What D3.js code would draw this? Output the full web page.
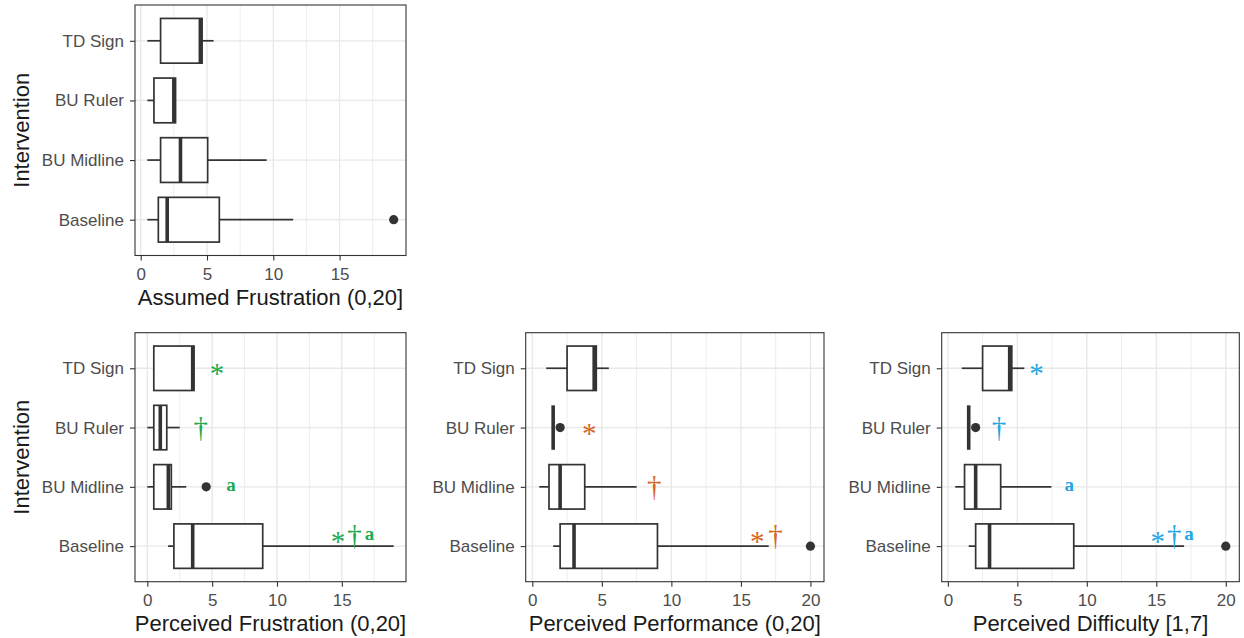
<!DOCTYPE html>
<html><head><meta charset="utf-8">
<script src="https://cdn.jsdelivr.net/npm/d3@7"></script>
<style>body{margin:0;background:#fff}svg{display:block}</style>
</head><body>
<svg id="chart" width="1244" height="638"></svg>
<script>
// ---------- data ----------
const categories = ["TD Sign", "BU Ruler", "BU Midline", "Baseline"];
const ticks15 = [0, 5, 10, 15];
const ticks20 = [0, 5, 10, 15, 20];

// Assumed Frustration (0,20]
const afLow  = [0.5, 0.5, 0.5, 0.5];
const afQ1   = [1.5, 1.0, 1.5, 1.33];
const afMed  = [4.5, 2.5, 3.0, 2.0];
const afQ3   = [4.63, 2.63, 5.05, 5.93];
const afHigh = [5.5, 2.63, 9.5, 11.5];
const afOut  = [{cat: "Baseline", v: 19.08}];
const afMarks = [];

// Perceived Frustration (0,20]
const pfLow  = [0.5, 0.0, 0.0, 1.6];
const pfQ1   = [0.5, 0.5, 0.5, 2.05];
const pfMed  = [3.5, 1.0, 1.62, 3.5];
const pfQ3   = [3.6, 1.5, 1.85, 8.9];
const pfHigh = [3.6, 2.5, 3.0, 19.0];
const pfOut  = [{cat: "BU Midline", v: 4.54}];
const pfMarks = [
  {cat: "TD Sign", label: "*", v: 5.38, up: 0},
  {cat: "BU Ruler", label: "†", v: 4.13, up: 0},
  {cat: "BU Midline", label: "a", v: 6.46, up: 0},
  {cat: "Baseline", label: "*", v: 14.7, up: 0.17},
  {cat: "Baseline", label: "†", v: 15.97, up: 0.17},
  {cat: "Baseline", label: "a", v: 17.13, up: 0.17}
];

// Perceived Performance (0,20]
const ppLow  = [1.0, 1.5, 0.5, 1.5];
const ppQ1   = [2.5, 1.5, 1.2, 2.0];
const ppMed  = [4.45, 1.5, 2.0, 3.0];
const ppQ3   = [4.6, 1.5, 3.77, 9.0];
const ppHigh = [5.5, 1.5, 7.5, 17.0];
const ppOut  = [{cat: "BU Ruler", v: 2.0}, {cat: "Baseline", v: 20.0}];
const ppMarks = [
  {cat: "BU Ruler", label: "*", v: 4.09, up: 0},
  {cat: "BU Midline", label: "†", v: 8.77, up: 0},
  {cat: "Baseline", label: "*", v: 16.18, up: 0.17},
  {cat: "Baseline", label: "†", v: 17.48, up: 0.17}
];

// Perceived Difficulty [1,7]
const pdLow  = [1.0, 1.5, 0.53, 1.5];
const pdQ1   = [2.5, 1.5, 1.2, 2.0];
const pdMed  = [4.45, 1.5, 2.0, 3.0];
const pdQ3   = [4.6, 1.5, 3.8, 9.06];
const pdHigh = [5.5, 1.5, 7.45, 17.0];
const pdOut  = [{cat: "BU Ruler", v: 2.0}, {cat: "Baseline", v: 20.0}];
const pdMarks = [
  {cat: "TD Sign", label: "*", v: 6.37, up: 0},
  {cat: "BU Ruler", label: "†", v: 3.68, up: 0},
  {cat: "BU Midline", label: "a", v: 8.73, up: 0},
  {cat: "Baseline", label: "*", v: 15.1, up: 0.17},
  {cat: "Baseline", label: "†", v: 16.3, up: 0.17},
  {cat: "Baseline", label: "a", v: 17.36, up: 0.17}
];

// ---------- layout ----------
const panels = [
  {title: "Assumed Frustration (0,20]", L: 135, R: 406, T: 5, B: 255.5, yTitle: true,
   low: afLow, q1: afQ1, med: afMed, q3: afQ3, high: afHigh, out: afOut, marks: afMarks, ticks: ticks15, color: "#000"},
  {title: "Perceived Frustration (0,20]", L: 135, R: 406, T: 332.7, B: 581.7, yTitle: true,
   low: pfLow, q1: pfQ1, med: pfMed, q3: pfQ3, high: pfHigh, out: pfOut, marks: pfMarks, ticks: ticks15, color: "#1faa50"},
  {title: "Perceived Performance (0,20]", L: 525.7, R: 824, T: 332.7, B: 581.7, yTitle: false,
   low: ppLow, q1: ppQ1, med: ppMed, q3: ppQ3, high: ppHigh, out: ppOut, marks: ppMarks, ticks: ticks20, color: "#d8661c"},
  {title: "Perceived Difficulty [1,7]", L: 941.7, R: 1239.3, T: 332.7, B: 581.7, yTitle: false,
   low: pdLow, q1: pdQ1, med: pdMed, q3: pdQ3, high: pdHigh, out: pdOut, marks: pdMarks, ticks: ticks20, color: "#22a6e6"}
];

const svg = d3.select("#chart");
const INK = "#333333";
const GRID = "#e8e8e8";
const sans = "'Liberation Sans', Arial, sans-serif";
const serif = "'Liberation Serif', 'Times New Roman', serif";

panels.forEach(p => {
  const allVals = p.low.concat(p.high, p.out.map(o => o.v));
  const mn = d3.min(allVals), mx = d3.max(allVals);
  const pad = (mx - mn) * 0.05;
  const x = d3.scaleLinear().domain([mn - pad, mx + pad]).range([p.L, p.R]);
  const y = d3.scalePoint().domain(categories).range([p.T, p.B]).padding(0.6);
  const step = y.step();
  const bh = step * 0.75;
  const [d0, d1] = x.domain();

  const g = svg.append("g");
  g.append("rect").attr("x", p.L).attr("y", p.T).attr("width", p.R - p.L).attr("height", p.B - p.T).attr("fill", "#fff");

  // minor grid
  const minors = d3.range(Math.ceil(d0 / 5) * 5 - 2.5, d1, 5).filter(v => v > d0 && v < d1);
  g.selectAll(".minor").data(minors).join("line")
    .attr("x1", d => x(d)).attr("x2", d => x(d)).attr("y1", p.T).attr("y2", p.B)
    .attr("stroke", GRID).attr("stroke-width", 0.8);
  // major grid
  g.selectAll(".majx").data(p.ticks).join("line")
    .attr("x1", d => x(d)).attr("x2", d => x(d)).attr("y1", p.T).attr("y2", p.B)
    .attr("stroke", GRID).attr("stroke-width", 1.3);
  g.selectAll(".majy").data(categories).join("line")
    .attr("x1", p.L).attr("x2", p.R).attr("y1", d => y(d)).attr("y2", d => y(d))
    .attr("stroke", GRID).attr("stroke-width", 1.3);

  // boxplots
  const rows = categories.map((c, i) => ({c, lo: p.low[i], q1: p.q1[i], med: p.med[i], q3: p.q3[i], hi: p.high[i]}));
  const bx = g.selectAll(".box").data(rows).join("g");
  bx.append("line").attr("x1", d => x(d.lo)).attr("x2", d => x(d.q1)).attr("y1", d => y(d.c)).attr("y2", d => y(d.c))
    .attr("stroke", INK).attr("stroke-width", 1.7);
  bx.append("line").attr("x1", d => x(d.q3)).attr("x2", d => x(d.hi)).attr("y1", d => y(d.c)).attr("y2", d => y(d.c))
    .attr("stroke", INK).attr("stroke-width", 1.7);
  bx.append("rect").attr("x", d => x(d.q1)).attr("width", d => x(d.q3) - x(d.q1))
    .attr("y", d => y(d.c) - bh / 2).attr("height", bh)
    .attr("fill", "#fff").attr("stroke", INK).attr("stroke-width", 1.7);
  bx.append("line").attr("x1", d => x(d.med)).attr("x2", d => x(d.med))
    .attr("y1", d => y(d.c) - bh / 2).attr("y2", d => y(d.c) + bh / 2)
    .attr("stroke", INK).attr("stroke-width", 3.6);

  g.selectAll(".out").data(p.out).join("circle")
    .attr("cx", d => x(d.v)).attr("cy", d => y(d.cat)).attr("r", 4.6).attr("fill", INK);

  // annotations
  const sizes = {"*": 29, "†": 29, "a": 19};
  const dys = {"*": 15, "†": 9, "a": 4};
  g.selectAll(".mark").data(p.marks).join("text")
    .attr("x", d => x(d.v))
    .attr("y", d => y(d.cat) - d.up * step + dys[d.label])
    .attr("text-anchor", "middle")
    .attr("font-family", serif).attr("font-weight", d => d.label === "a" ? "bold" : "normal")
    .attr("font-size", d => sizes[d.label])
    .attr("fill", p.color).text(d => d.label);

  // border
  g.append("rect").attr("x", p.L).attr("y", p.T).attr("width", p.R - p.L).attr("height", p.B - p.T)
    .attr("fill", "none").attr("stroke", INK).attr("stroke-width", 1.1);

  // axes
  const ax = svg.append("g").attr("transform", `translate(0,${p.B})`)
    .call(d3.axisBottom(x).tickValues(p.ticks).tickFormat(d3.format("d")).tickSize(5).tickPadding(7));
  const ay = svg.append("g").attr("transform", `translate(${p.L},0)`)
    .call(d3.axisLeft(y).tickSize(5).tickPadding(6));
  [ax, ay].forEach(a => {
    a.select(".domain").remove();
    a.selectAll(".tick line").attr("stroke", INK).attr("stroke-width", 1.1);
    a.selectAll(".tick text").attr("fill", "#4d4d4d").style("font-family", sans).style("font-size", "17px");
  });

  svg.append("text").attr("x", (p.L + p.R) / 2).attr("y", p.B + 49)
    .attr("text-anchor", "middle").attr("font-family", sans).attr("font-size", 22).attr("fill", "#1a1a1a")
    .text(p.title);
  if (p.yTitle) {
    svg.append("text").attr("transform", `translate(29,${(p.T + p.B) / 2}) rotate(-90)`)
      .attr("text-anchor", "middle").attr("font-family", sans).attr("font-size", 22).attr("fill", "#1a1a1a")
      .text("Intervention");
  }
});
</script>
</body></html>
